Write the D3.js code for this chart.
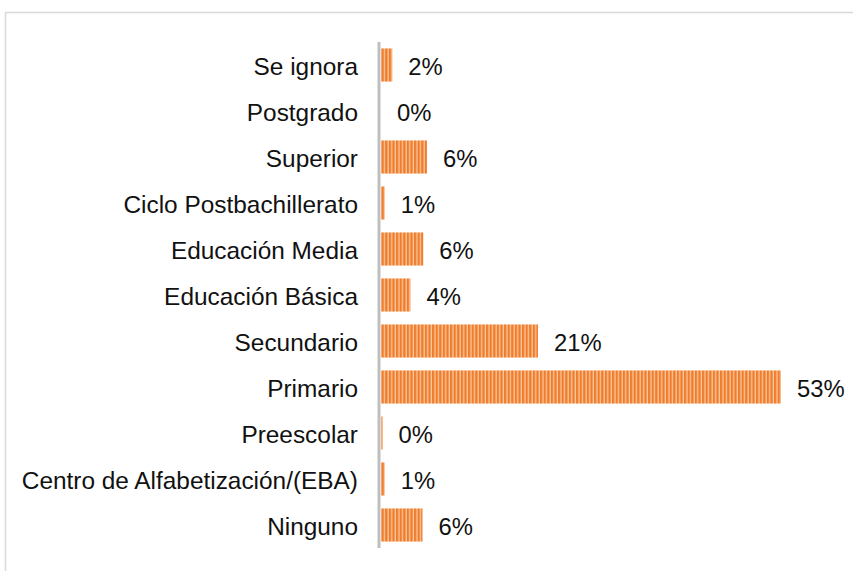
<!DOCTYPE html>
<html>
<head>
<meta charset="utf-8">
<script src="https://cdn.jsdelivr.net/npm/d3@7"></script>
<style>
  body { margin: 0; background: #fff; }
  .text { font-family: 'Liberation Sans', Arial, sans-serif; font-size: 23.8px; fill: #111; }
  .text--cat { font-size: 24.4px; }
</style>
</head>
<body>
<svg class="chart" width="853" height="571"></svg>
<script>
const categories = ['Se ignora', 'Postgrado', 'Superior', 'Ciclo Postbachillerato', 'Educación Media',
  'Educación Básica', 'Secundario', 'Primario', 'Preescolar', 'Centro de Alfabetización/(EBA)', 'Ninguno'];
const values = [1.5, 0, 6.1, 0.5, 5.6, 3.9, 20.8, 53, 0.2, 0.5, 5.5];
const valueLabels = ['2%', '0%', '6%', '1%', '6%', '4%', '21%', '53%', '0%', '1%', '6%'];

const drawFrame = (svg) => {
  svg.append('path')
    .attr('d', 'M5.5,571 V12.5 H853')
    .attrs({ fill: 'none', stroke: '#d9d9d9', 'stroke-width': 1.5 });
};

const createStripes = (svg) => {
  const pattern = svg.append('defs').append('pattern')
    .attrs({ id: 'stripes', width: 3.6, height: 10, patternUnits: 'userSpaceOnUse' });
  pattern.append('rect').attrs({ width: 3.6, height: 10, fill: '#f9c8a0' });
  pattern.append('rect').attrs({ width: 2.3, height: 10, fill: '#ef7d2c' });
};

const startApp = () => {
  const svg = d3.select('.chart');
  const xScale = d3.scaleLinear().domain([0, 53]).range([381, 781]);
  const yScale = d3.scaleBand().domain(categories).range([42, 548]).paddingInner(0.28).paddingOuter(0.14);

  drawFrame(svg);
  createStripes(svg);

  const rows = categories.map((name, i) => ({ name, value: values[i], label: valueLabels[i] }));

  svg.selectAll('.bar')
    .data(rows)
    .enter()
    .append('rect')
    .classed('bar', true)
    .attrs(({ name, value }) => ({
      x: xScale(0),
      y: yScale(name),
      width: xScale(value) - xScale(0),
      height: yScale.bandwidth(),
      fill: 'url(#stripes)',
    }));

  svg.append('line')
    .attrs({ x1: 379, x2: 379, y1: 42, y2: 548, stroke: '#bfbfbf', 'stroke-width': 3 });

  svg.selectAll('.cat')
    .data(rows)
    .enter()
    .append('text')
    .classed('text text--cat', true)
    .attrs(({ name }) => ({ x: 358, y: yScale(name) + yScale.bandwidth() / 2 + 1.5, dy: '0.35em', 'text-anchor': 'end' }))
    .text(({ name }) => name);

  svg.selectAll('.val')
    .data(rows)
    .enter()
    .append('text')
    .classed('text', true)
    .attrs(({ name, value }) => ({ x: xScale(value) + 16, y: yScale(name) + yScale.bandwidth() / 2 + 1.5, dy: '0.35em' }))
    .text(({ label }) => label);
};

d3.selection.prototype.attrs = function (obj) {
  if (typeof obj === 'function') {
    return this.each(function (d, i, nodes) {
      const o = obj.call(this, d, i, nodes);
      Object.entries(o).forEach(([k, v]) => this.setAttribute(k, v));
    });
  }
  Object.entries(obj).forEach(([k, v]) => this.attr(k, v));
  return this;
};

window.onload = startApp;
</script>
</body>
</html>
